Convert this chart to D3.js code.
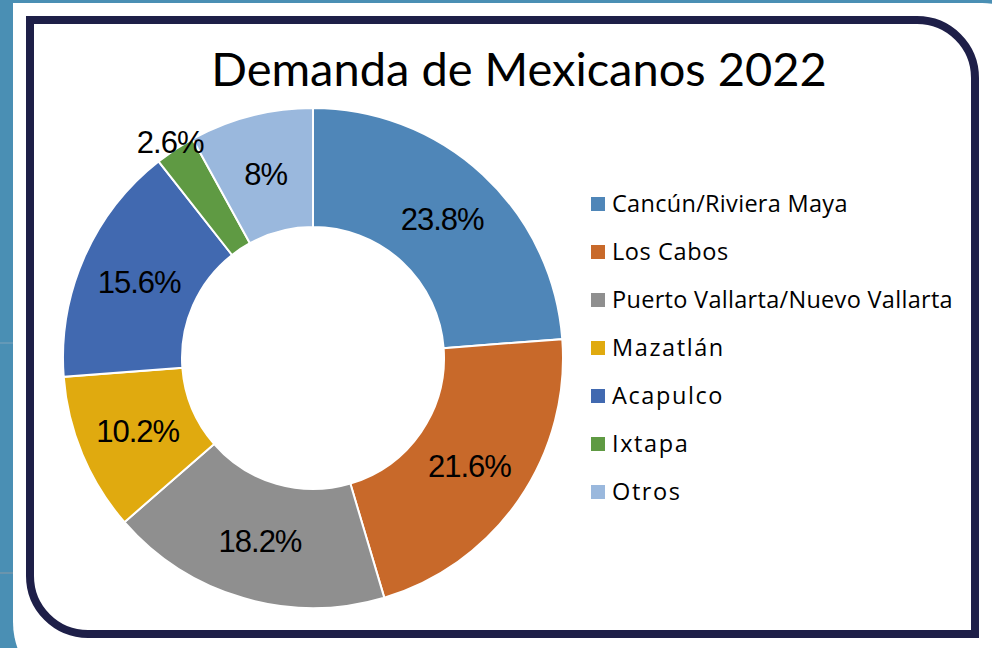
<!DOCTYPE html>
<html>
<head>
<meta charset="utf-8">
<script src="https://cdn.jsdelivr.net/npm/d3@7"></script>
<style>
  body { margin: 0; background: #4a8fb4; }
  svg { display: block; }
</style>
</head>
<body>
<div id="chart"></div>
<script>
// Datos del gráfico
const destinos = ["Cancún/Riviera Maya", "Los Cabos", "Puerto Vallarta/Nuevo Vallarta", "Mazatlán", "Acapulco", "Ixtapa", "Otros"];
const valores = [23.8, 21.6, 18.2, 10.2, 15.6, 2.6, 8];
const etiquetas = ["23.8%", "21.6%", "18.2%", "10.2%", "15.6%", "2.6%", "8%"];
const colores = ["#4f86b8", "#c8692a", "#8f8f8f", "#e0aa0f", "#4169b0", "#5f9a43", "#9ab8dd"];
const titulo = "Demanda de Mexicanos 2022";

const width = 992, height = 648;

const svg = d3.select("#chart").append("svg")
  .attr("width", width)
  .attr("height", height);

// Fondo azul
svg.append("rect").attr("width", width).attr("height", height).attr("fill", "#4a8fb4");

// path con esquinas redondeadas arriba-derecha y abajo-izquierda
function tarjeta(x0, y0, x1, y1, r) {
  const p = d3.path();
  p.moveTo(x0, y0);
  p.lineTo(x1 - r, y0);
  p.arcTo(x1, y0, x1, y0 + r, r);
  p.lineTo(x1, y1);
  p.lineTo(x0 + r, y1);
  p.arcTo(x0, y1, x0, y1 - r, r);
  p.closePath();
  return p.toString();
}

// tarjeta blanca
svg.append("path").attr("d", tarjeta(13, 3, 1060, 700, 78)).attr("fill", "#fff");
// lineas finas en el fondo azul
svg.append("line").attr("x1", 0).attr("x2", 13).attr("y1", 573).attr("y2", 573)
  .attr("stroke", "#8a9aa6").attr("stroke-width", 1);
svg.append("line").attr("x1", 0).attr("x2", 13).attr("y1", 343).attr("y2", 343)
  .attr("stroke", "#7fa3bb").attr("stroke-width", 1);

// marco azul oscuro
svg.append("path").attr("d", tarjeta(30, 20, 975, 634, 58))
  .attr("fill", "none").attr("stroke", "#1e1f48").attr("stroke-width", 8);

// Titulo
svg.append("text")
  .attr("x", 519).attr("y", 86)
  .attr("text-anchor", "middle")
  .attr("font-family", "Lato, 'Noto Sans', sans-serif")
  .attr("font-size", 47)
  .attr("fill", "#000")
  .text(titulo);

// Dona
const cx = 313, cy = 358;
const rOuter = 250, rInner = 131;

const pie = d3.pie().sort(null).value(d => d.v);
const datos = destinos.map((d, i) => ({ nombre: d, v: valores[i], etiqueta: etiquetas[i], color: colores[i] }));
const arcos = pie(datos);

const arc = d3.arc().innerRadius(rInner).outerRadius(rOuter);
const g = svg.append("g").attr("transform", `translate(${cx},${cy})`);

g.selectAll("path.slice")
  .data(arcos)
  .enter()
  .append("path")
  .attr("class", "slice")
  .attr("d", arc)
  .attr("fill", d => d.data.color)
  .attr("stroke", "#fff")
  .attr("stroke-width", 2);

// etiquetas: las pequeñas van fuera
const arcoEtiqueta = d3.arc().innerRadius(190).outerRadius(190);
const arcoFuera = d3.arc().innerRadius(259).outerRadius(259);

g.selectAll("text.pct")
  .data(arcos)
  .enter()
  .append("text")
  .attr("class", "pct")
  .attr("transform", d => `translate(${(d.data.v < 5 ? arcoFuera : arcoEtiqueta).centroid(d)})`)
  .attr("text-anchor", "middle")
  .attr("dy", "0.36em")
  .attr("font-family", "'Liberation Sans', Arial, sans-serif")
  .attr("font-size", 31)
  .attr("letter-spacing", -1)
  .attr("fill", "#000")
  .text(d => d.data.etiqueta);

// Leyenda
const legend = svg.append("g").attr("transform", "translate(591, 204)");
const y = d3.scaleBand().domain(destinos).range([0, 48 * destinos.length]);

const item = legend.selectAll("g.item")
  .data(datos)
  .enter()
  .append("g")
  .attr("class", "item")
  .attr("transform", d => `translate(0, ${y(d.nombre)})`);

item.append("rect")
  .attr("x", 0).attr("y", -7)
  .attr("width", 14).attr("height", 14)
  .attr("fill", d => d.color);

// las últimas entradas tienen más espacio entre letras
item.append("text")
  .attr("x", 21).attr("y", 0)
  .attr("dy", "0.36em")
  .attr("font-family", "'Open Sans', 'Noto Sans', sans-serif")
  .attr("font-size", 23.5)
  .attr("letter-spacing", (d, i) => i >= 3 ? 1.6 : (i === 1 ? 0.6 : 0.3))
  .attr("fill", "#000")
  .text(d => d.nombre);
</script>
</body>
</html>
